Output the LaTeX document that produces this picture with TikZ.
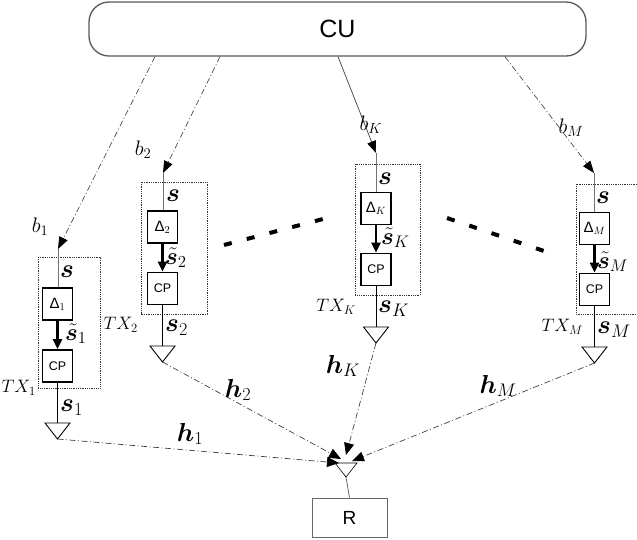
\RequirePackage{fix-cm}
\documentclass[tikz,border=0pt]{standalone}
\usepackage{amsmath,bm}
\usepackage{fontspec}
\newfontfamily\sansf{Liberation Sans}
\usetikzlibrary{arrows.meta,calc}
\tikzset{
  lab/.style={inner sep=0pt, font=\fontsize{21}{24}\selectfont},
  txlab/.style={inner sep=0pt, font=\fontsize{18}{20}\selectfont},
  blab/.style={inner sep=0pt, font=\fontsize{26}{28}\selectfont},
  tlab/.style={inner sep=0pt, font=\fontsize{24}{26}\selectfont},
  dbox/.style={draw, line width=1.7pt, minimum width=30pt, minimum height=32pt, inner sep=0pt, fill=white, font=\sansf\fontsize{15}{17}\selectfont},
  txbox/.style={draw=black!80, densely dotted, line width=0.8pt},
  ant/.style={draw, line width=0.9pt, fill=white, line join=miter},
  ctl/.style={draw=black!70, line width=0.7pt, dash pattern=on 6pt off 2.5pt on 1pt off 2.5pt, -{Triangle[length=12pt,width=9pt,color=black]}},
  ctlsolid/.style={draw=black!75, line width=0.7pt, -{Triangle[length=12pt,width=9pt,color=black]}},
  chan/.style={draw=black!75, line width=0.7pt, dash pattern=on 6pt off 2.5pt on 1pt off 2.5pt, -{Triangle[length=12pt,width=10pt,color=black]}},
  sigin/.style={draw=black!55, line width=0.9pt},
  sigmid/.style={draw=black, line width=2.2pt, -{Triangle[length=10pt,width=9pt]}},
  sigout/.style={draw=black, line width=1pt},
  gaps/.style={draw=black, line width=4pt, dash pattern=on 8pt off 15.5pt},
}
\begin{document}
\begin{tikzpicture}[x=1pt,y=-1pt]
\useasboundingbox (0,0) rectangle (637,539);

% Central unit
\node[draw=black!65, line width=1.3pt, rounded corners=20pt, minimum width=497pt, minimum height=54pt, inner sep=0pt,
      font=\sansf\fontsize{25}{28}\selectfont] (cu) at (337.5,29) {CU};

% ---------- TX1 ----------
\draw[txbox] (38,257) rectangle (100,388);
\node[dbox] (d1) at (57.5,304) {Δ$_1$};
\node[dbox] (c1) at (57.5,366) {\fontsize{12.5}{14}\selectfont CP};
\coordinate (t1) at (57.5,423);
\coordinate (t1a) at (45,423);
\coordinate (t1b) at (70,423);
\coordinate (t1tip) at (57.5,439);
\draw[ant] (t1a) -- (t1b) -- (t1tip) -- cycle;
\coordinate (a1) at (58,249);
\draw[ctl] (cu.south -| 155,0) -- (a1);
\draw[sigin] (a1) -- (a1 |- d1.north);
\draw[sigmid] (d1.south) -- (c1.north);
\draw[sigout] (c1.south) -- (t1);
\node[lab] (lb1) at (40,227) {$b_1$};
\node[blab, anchor=west] (ls1) at (60,272) {$\bm{s}$};
\node[tlab, anchor=west] (lst1) at (65,334) {$\tilde{\bm{s}}_1$};
\node[txlab, anchor=east] (ltx1) at (36,388) {$TX_1$};
\node[blab, anchor=west] (lso1) at (60,408) {$\bm{s}_1$};

% ---------- TX2 ----------
\draw[txbox] (141,182) rectangle (207,314);
\node[dbox] (d2) at (162.5,227) {Δ$_2$};
\node[dbox] (c2) at (162.5,288.5) {\fontsize{12.5}{14}\selectfont CP};
\coordinate (t2) at (162.5,346);
\coordinate (t2a) at (150,346);
\coordinate (t2b) at (175,346);
\coordinate (t2tip) at (162.5,362);
\draw[ant] (t2a) -- (t2b) -- (t2tip) -- cycle;
\coordinate (a2) at (163,173);
\draw[ctl] (cu.south -| 220,0) -- (a2);
\draw[sigin] (a2) -- (a2 |- d2.north);
\draw[sigmid] (d2.south) -- (c2.north);
\draw[sigout] (c2.south) -- (t2);
\node[lab] (lb2) at (143,150) {$b_2$};
\node[blab, anchor=west] (ls2) at (166,196) {$\bm{s}$};
\node[tlab, anchor=west] (lst2) at (165,258) {$\tilde{\bm{s}}_2$};
\node[txlab, anchor=east] (ltx2) at (138,325) {$TX_2$};
\node[blab, anchor=west] (lso2) at (165,328) {$\bm{s}_2$};

% ---------- TXK ----------
\draw[txbox] (355,164) rectangle (420,295);
\node[dbox] (dk) at (376,208.5) {Δ$_K$};
\node[dbox] (ck) at (376,269.5) {\fontsize{12.5}{14}\selectfont CP};
\coordinate (tk) at (376,327);
\coordinate (tka) at (363.5,327);
\coordinate (tkb) at (388.5,327);
\coordinate (tktip) at (376,343);
\draw[ant] (tka) -- (tkb) -- (tktip) -- cycle;
\coordinate (ak) at (376,153);
\draw[ctlsolid] (cu.south -| 338,0) -- (ak);
\draw[sigin] (ak) -- (ak |- dk.north);
\draw[sigmid] (dk.south) -- (ck.north);
\draw[sigout] (ck.south) -- (tk);
\node[lab] (lbk) at (371,125) {$b_K$};
\node[blab, anchor=west] (lsk) at (378,179) {$\bm{s}$};
\node[tlab, anchor=west] (lstk) at (381,238) {$\tilde{\bm{s}}_K$};
\node[txlab, anchor=east] (ltxk) at (356,307) {$TX_K$};
\node[blab, anchor=west] (lsok) at (378,309) {$\bm{s}_K$};

% ---------- TXM ----------
\coordinate (mtr) at (637,184);
\coordinate (mbr) at (637,314);
\draw[txbox] (mtr) -- (576,184) -- (576,314) -- (mbr);
\node[dbox] (dm) at (594.5,228.5) {Δ$_M$};
\node[dbox] (cm) at (594.5,289.5) {\fontsize{12.5}{14}\selectfont CP};
\coordinate (tm) at (594.5,347);
\coordinate (tma) at (582,347);
\coordinate (tmb) at (607,347);
\coordinate (tmtip) at (594.5,363);
\draw[ant] (tma) -- (tmb) -- (tmtip) -- cycle;
\coordinate (am) at (594,173);
\draw[ctl] (cu.south -| 505,0) -- (am);
\draw[sigin] (am) -- (am |- dm.north);
\draw[sigmid] (dm.south) -- (cm.north);
\draw[sigout] (cm.south) -- (tm);
\node[lab] (lbm) at (571,128) {$b_M$};
\node[blab, anchor=west] (lsm) at (596,198) {$\bm{s}$};
\node[tlab, anchor=west] (lstm) at (597,262) {$\tilde{\bm{s}}_M$};
\node[txlab, anchor=east] (ltxm) at (583,327) {$TX_M$};
\node[blab, anchor=west] (lsom) at (597,330) {$\bm{s}_M$};

% ---------- ellipsis dashes ----------
\coordinate (gl1) at (224,245);
\coordinate (gl2) at (323,219);
\coordinate (gr1) at (447,218);
\coordinate (gr2) at (544,251);
\draw[gaps] (gl1) -- (gl2);
\draw[gaps] (gr1) -- (gr2);

% ---------- receiver ----------
\node[draw=black!60, line width=0.8pt, minimum width=75pt, minimum height=39pt, inner sep=0pt,
      font=\sansf\fontsize{19}{21}\selectfont] (r) at (349.5,517.5) {R};
\coordinate (rxa) at (335,463);
\coordinate (rxb) at (357,463);
\coordinate (rxtip) at (346,477);
\draw[ant, line width=0.6pt] (rxa) -- (rxb) -- (rxtip) -- cycle;
\draw[draw=black!60, line width=0.8pt] (rxtip) -- (r.north);
\coordinate (e1) at (339,463);
\coordinate (e2) at (341,459);
\coordinate (ek) at (346,455);
\coordinate (em) at (352,461);
\draw[chan] (t1tip) -- (e1);
\draw[chan] (t2tip) -- (e2);
\draw[chan] (tktip) -- (ek);
\draw[chan] (tmtip) -- (em);
\node[blab] (lh1) at (190,434) {$\bm{h}_1$};
\node[blab] (lh2) at (238,390) {$\bm{h}_2$};
\node[blab] (lhk) at (343,366) {$\bm{h}_K$};
\node[blab] (lhm) at (498,386) {$\bm{h}_M$};
\end{tikzpicture}
\end{document}
